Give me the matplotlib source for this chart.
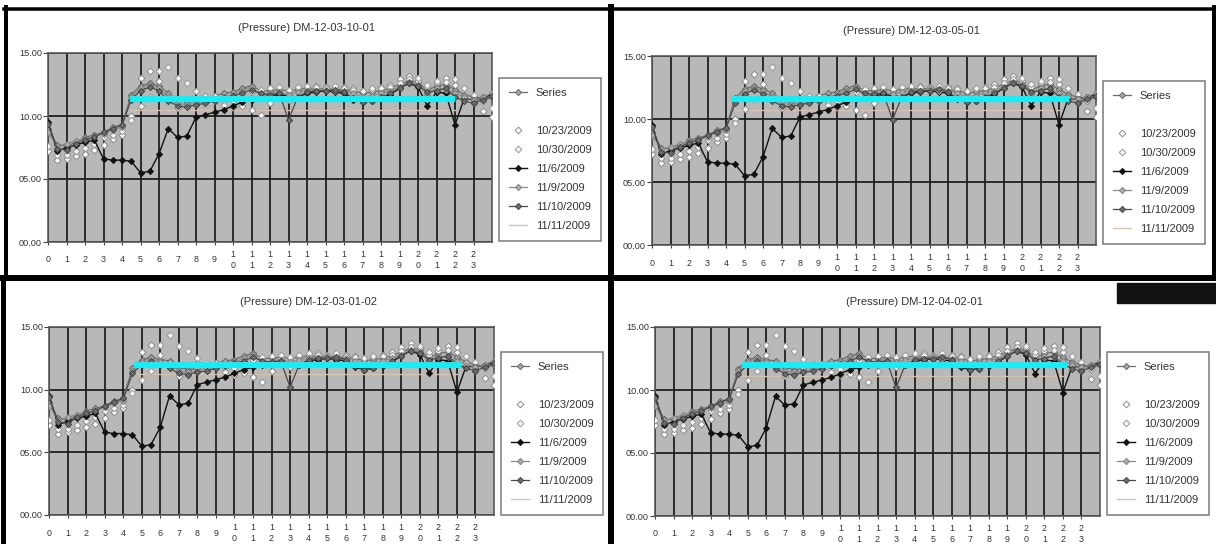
import matplotlib.pyplot as plt
from matplotlib.lines import Line2D
from matplotlib.patches import Rectangle
import numpy as np

plt.rcParams['font.family'] = ['Liberation Sans', 'DejaVu Sans']

W, H = 1216, 544

# half-hour readings, 0h .. 24h
hours = np.arange(0, 24.5, 0.5)

series_vals = [9.0, 7.7, 7.6, 7.9, 8.3, 8.5, 8.7, 9.1, 9.3, 11.7, 12.4, 12.6, 12.4,
               11.8, 11.3, 11.1, 11.2, 11.4, 11.6, 11.8, 11.9, 12.2, 12.4, 12.0, 12.0,
               12.1, 12.0, 12.1, 12.2, 12.1, 12.2, 12.1, 12.1, 12.0, 11.8, 11.9, 12.0,
               12.2, 12.5, 12.8, 12.7, 12.0, 12.4, 12.5, 12.1, 11.7, 11.5, 11.2, 11.5]
d1023 = [7.2, 6.5, 6.6, 6.8, 7.0, 7.3, 7.7, 8.2, 8.5, 10.0, 13.0, 13.6, 12.8,
         11.6, 10.6, 10.9, 11.3, 11.5, 11.6, 11.2, 10.7, 10.8, 10.5, 10.1, 11.0,
         12.0, 11.3, 12.2, 12.3, 12.4, 12.3, 12.2, 12.3, 12.2, 12.0, 12.1, 12.3,
         12.5, 12.9, 13.2, 12.8, 12.3, 12.6, 13.0, 12.5, 11.6, 11.0, 10.4, 9.9]
d1030 = [7.6, 6.9, 6.9, 7.2, 7.5, 7.8, 8.3, 8.5, 8.8, 9.7, 10.8, 11.5, 13.6,
         13.9, 13.0, 12.6, 12.0, 11.6, 11.2, 10.9, 11.2, 11.6, 11.9, 12.1, 12.2,
         12.3, 12.1, 12.3, 12.4, 12.3, 12.2, 12.4, 12.2, 12.1, 12.0, 12.2, 12.2,
         12.3, 12.6, 12.9, 13.0, 12.5, 12.8, 12.7, 12.9, 12.2, 11.7, 11.2, 10.6]
d116 = [9.5, 7.2, 7.5, 7.7, 7.9, 8.1, 6.6, 6.5, 6.5, 6.4, 5.5, 5.6, 7.0,
        9.0, 8.3, 8.4, 9.9, 10.1, 10.3, 10.5, 10.8, 11.1, 11.3, 11.5, 11.6,
        11.7, 11.6, 11.5, 11.8, 11.9, 12.0, 11.9, 11.8, 11.3, 11.1, 11.2, 11.4,
        11.7, 12.2, 12.6, 12.3, 10.8, 11.9, 11.8, 9.3, 11.4, 11.3, 11.5, 11.7]
d119 = [8.7, 7.6, 7.8, 8.0, 8.2, 8.4, 8.6, 8.9, 9.1, 11.5, 12.2, 12.5, 12.2,
        11.5, 11.0, 10.9, 11.0, 11.2, 11.3, 11.5, 11.7, 12.0, 12.3, 11.6, 11.8,
        11.9, 11.7, 11.9, 12.0, 12.0, 12.1, 12.0, 12.0, 11.8, 11.5, 11.6, 11.8,
        12.0, 12.3, 12.7, 12.5, 11.7, 12.2, 12.1, 11.8, 11.5, 11.3, 11.5, 11.8]
d1110 = [9.4, 7.4, 7.3, 7.8, 8.1, 8.3, 8.7, 9.0, 9.3, 11.3, 12.0, 12.3, 12.0,
         11.2, 10.8, 10.7, 10.9, 11.0, 11.2, 11.4, 11.6, 11.8, 12.1, 11.8, 11.7,
         11.8, 9.7, 11.5, 11.9, 12.0, 12.0, 12.1, 11.9, 11.4, 11.1, 11.2, 11.5,
         11.8, 12.2, 12.6, 12.4, 11.9, 12.0, 12.2, 11.5, 11.2, 11.0, 11.3, 11.6]

titles = ['(Pressure) DM-12-03-10-01', '(Pressure) DM-12-03-05-01',
          '(Pressure) DM-12-03-01-02', '(Pressure) DM-12-04-02-01']
day_shift = [0.0, 0.25, 0.5, 0.5]          # daytime level of each gauge vs the first
ref_level = [11.36, 11.55, 11.98, 12.0]    # cyan reference bar
ref_start = [4.44, 4.27, 4.6, 4.7]
ref_end = [22.0, 22.56, 22.2, 22.2]
d1111_level = [10.45, 10.7, 11.25, 11.1]
d1111_span = [4.5, 22.0]

# plot areas in pixels: left, top(15.00), right, bottom(00.00)
plot_px = [(48, 53, 492, 242), (652, 56, 1096, 245),
           (49, 327, 494, 515), (655, 327, 1100, 516)]

legend_labels = ['Series', '', '10/23/2009', '10/30/2009', '11/6/2009',
                 '11/9/2009', '11/10/2009', '11/11/2009']
styles = {
    'Series': dict(color='#6e6e6e', lw=0.9, marker='D', ms=3.2, mfc='#a4a4a4', mec='#5c5c5c', mew=0.6),
    '10/23/2009': dict(ls='none', marker='D', ms=3.4, mfc='white', mec='#8c8c8c', mew=0.7),
    '10/30/2009': dict(ls='none', marker='D', ms=3.4, mfc='#f4f4f4', mec='#9a9a9a', mew=0.7),
    '11/6/2009': dict(color='#111111', lw=1.0, marker='D', ms=3.2, mfc='#111111', mec='#111111', mew=0.6),
    '11/9/2009': dict(color='#8a8a8a', lw=0.9, marker='D', ms=3.2, mfc='#ababab', mec='#7a7a7a', mew=0.6),
    '11/10/2009': dict(color='#4a4a4a', lw=0.9, marker='D', ms=3.2, mfc='#6c6c6c', mec='#3c3c3c', mew=0.6),
    '11/11/2009': dict(color='#d8c2ae', lw=1.0),
}
data = {'Series': series_vals, '10/23/2009': d1023, '10/30/2009': d1030,
        '11/6/2009': d116, '11/9/2009': d119, '11/10/2009': d1110}

xlabels = [str(i) if i < 10 else '\n'.join(str(i)) for i in range(24)]


def fr(x0, y0, x1, y1):
    return [x0 / W, 1 - y1 / H, (x1 - x0) / W, (y1 - y0) / H]


def pt(px):
    return px * 0.72


fig = plt.figure(figsize=(W / 100, H / 100), dpi=100)
fig.patch.set_facecolor('white')

for p in range(4):
    x0, y15, x1, y0 = plot_px[p]
    ax = fig.add_axes(fr(x0, y15, x1, y0))
    ax.set_facecolor('#b8b8b8')
    day = hours >= 6.5

    for name in ['Series', '10/23/2009', '10/30/2009', '11/6/2009', '11/9/2009', '11/10/2009']:
        vals = np.array(data[name]) + np.where(day, day_shift[p], 0.0)
        ax.plot(hours, vals, label=name, zorder=3, **styles[name])
    ax.plot(d1111_span, [d1111_level[p]] * 2, label='11/11/2009', zorder=2.5, **styles['11/11/2009'])
    ax.plot([ref_start[p], ref_end[p]], [ref_level[p]] * 2, color='#19ecf2', lw=pt(6),
            solid_capstyle='butt', zorder=5)

    ax.set_xlim(0, 24)
    ax.set_ylim(0, 15)
    ax.set_xticks(range(24))
    ax.set_xticklabels(xlabels, fontsize=6.4, color='#333333', linespacing=1.4)
    for lbl in ax.get_xticklabels():
        lbl.set_va('center')
    ax.set_yticks([0, 5, 10, 15])
    ax.set_yticklabels(['00.00', '05.00', '10.00', '15.00'], fontsize=6.6, color='#333333')
    ax.tick_params(axis='x', length=pt(3), width=0.8, color='#444444', pad=pt(15))
    ax.tick_params(axis='y', length=pt(5), width=0.8, color='#444444', pad=pt(1))
    ax.grid(axis='x', color='#2e2e2e', lw=pt(2))
    ax.grid(axis='y', color='#1e1e1e', lw=pt(1.8))
    ax.set_axisbelow(True)
    for s in ax.spines.values():
        s.set_color('#555555')
        s.set_linewidth(pt(1.6))

    fig.text((x0 + 259) / W, 1 - (y15 - 25) / H, titles[p], ha='center', va='center',
             fontsize=8, color='#333333')

    handles, labels = ax.get_legend_handles_labels()
    lookup = dict(zip(labels, handles))
    blank = Line2D([], [], ls='none', marker='none')
    hs = [lookup.get(lab, blank) for lab in legend_labels]
    leg = ax.legend(hs, legend_labels, loc='upper left',
                    bbox_to_anchor=((x1 + 7) / W, 1 - (y15 + 25) / H),
                    bbox_transform=fig.transFigure, borderaxespad=0,
                    fontsize=8, labelspacing=0.81, handlelength=1.6,
                    handletextpad=0.8, borderpad=0.9, fancybox=False,
                    frameon=True, edgecolor='#777777', framealpha=1)
    leg.get_frame().set_linewidth(pt(1.5))
    for t in leg.get_texts():
        t.set_color('#333333')

# black frames around the four charts
border = '#000000'
fig.add_artist(Line2D([4 / W, 1], [1 - 8.5 / H] * 2, color=border, lw=pt(3.5)))
fig.add_artist(Line2D([0, 1], [1 - 278 / H] * 2, color=border, lw=pt(6)))
fig.add_artist(Line2D([6 / W] * 2, [1 - 7 / H, 1 - 278 / H], color=border, lw=pt(4)))
fig.add_artist(Line2D([3 / W] * 2, [1 - 278 / H, 0], color=border, lw=pt(5)))
fig.add_artist(Line2D([611 / W] * 2, [1 - 7 / H, 0], color=border, lw=pt(6)))
fig.add_artist(Line2D([1214 / W] * 2, [1 - 7 / H, 1 - 278 / H], color=border, lw=pt(4)))
fig.add_artist(Rectangle((1117 / W, 1 - 303 / H), 99 / W, 20 / H, color='#111111',
                         transform=fig.transFigure))

fig.savefig('out.png', dpi=100)
